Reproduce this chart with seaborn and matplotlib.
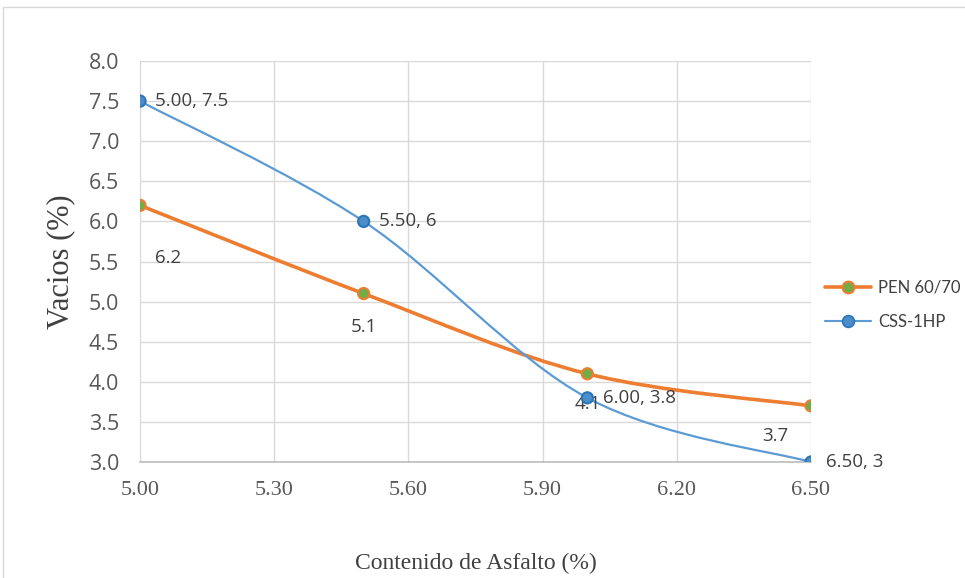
import numpy as np
import pandas as pd
import matplotlib
matplotlib.use("Agg")
import matplotlib.pyplot as plt
import seaborn as sns
from matplotlib.path import Path
from matplotlib.patches import PathPatch, Rectangle
from matplotlib.lines import Line2D

# Asphalt content (%) and air voids (%)
asfalto = [5.00, 5.50, 6.00, 6.50]
vacios_pen = [6.2, 5.1, 4.1, 3.7]
vacios_css = [7.5, 6.0, 3.8, 3.0]
series_names = ["PEN 60/70", "CSS-1HP"]
x_ticks = [5.00, 5.30, 5.60, 5.90, 6.20, 6.50]
y_ticks = [3.0, 3.5, 4.0, 4.5, 5.0, 5.5, 6.0, 6.5, 7.0, 7.5, 8.0]

df = pd.DataFrame({
    "asfalto": asfalto * 2,
    "vacios": vacios_pen + vacios_css,
    "serie": [series_names[0]] * 4 + [series_names[1]] * 4,
})

sns.set_theme(style="white")
plt.rcParams["font.family"] = ["Open Sans", "DejaVu Sans"]

ORANGE = "#ED7D31"
BLUE = "#5B9BD5"
TXT = "#404040"

fig = plt.figure(figsize=(9.65, 5.78), dpi=100)
fig.patch.set_facecolor("white")
# outer chart frame
fig.patches.append(Rectangle((3 / 965, -0.05), 1.2, 1 - 7 / 578 + 0.05,
                             transform=fig.transFigure, fill=False,
                             edgecolor="#d9d9d9", linewidth=1.0, zorder=0))

ax = fig.add_axes([140 / 965, 1 - 462 / 578, (811 - 140) / 965, (462 - 61) / 578])


def smooth_path(xs, ys):
    """Cubic Bezier through the points with Excel-style smoothing."""
    pts = np.column_stack([xs, ys]).astype(float)
    n = len(pts)
    verts = [pts[0]]
    codes = [Path.MOVETO]
    for i in range(n - 1):
        p0 = pts[max(i - 1, 0)]
        p1 = pts[i]
        p2 = pts[i + 1]
        p3 = pts[min(i + 2, n - 1)]
        c1 = p1 + (p2 - p0) / 6.0
        c2 = p2 - (p3 - p1) / 6.0
        verts += [c1, c2, p2]
        codes += [Path.CURVE4] * 3
    return Path(verts, codes)


ax.add_patch(PathPatch(smooth_path(asfalto, vacios_pen), fill=False,
                       edgecolor=ORANGE, linewidth=2.6, zorder=3,
                       capstyle="round"))
ax.add_patch(PathPatch(smooth_path(asfalto, vacios_css), fill=False,
                       edgecolor=BLUE, linewidth=1.6, zorder=3,
                       capstyle="round"))

sns.scatterplot(data=df, x="asfalto", y="vacios", hue="serie", ax=ax,
                palette={series_names[0]: "#70AD47", series_names[1]: "#4A8DC9"},
                s=65, legend=False, zorder=5, linewidth=1.5,
                edgecolor=[ORANGE] * 4 + ["#2E75B6"] * 4)

ax.set_xlim(5.00, 6.50)
ax.set_ylim(3.0, 8.0)
ax.set_xticks(x_ticks)
ax.set_yticks(y_ticks)
ax.set_xticklabels([f"{v:.2f}" for v in x_ticks], family="Liberation Serif",
                   fontsize=16)
ax.set_yticklabels([f"{v:.1f}" for v in y_ticks], fontsize=15.5)
ax.tick_params(axis="both", length=0, colors="#595959")
ax.tick_params(axis="x", pad=14)
ax.tick_params(axis="y", pad=15)
ax.grid(True, color="#d9d9d9", linewidth=1.0)
for side in ["top", "right", "left"]:
    ax.spines[side].set_visible(False)
ax.spines["bottom"].set_color("#bfbfbf")
ax.set_axisbelow(True)

ax.set_xlabel("Contenido de Asfalto (%)", family="Liberation Serif",
              fontsize=17, color=TXT, labelpad=38)
ax.set_ylabel("Vacios (%)", family="Liberation Serif", fontsize=22,
              color=TXT, labelpad=10)

# data labels: PEN 60/70 values below the points, CSS-1HP "x, y" to the right
pen_offsets = [(20, -38), (0, -24), (0, -22), (-26, -22)]
for (x, y), off in zip(zip(asfalto, vacios_pen), pen_offsets):
    ax.annotate(f"{y:g}", (x, y), xytext=off, textcoords="offset points",
                ha="center", va="center", fontsize=13.5, color=TXT)
for x, y in zip(asfalto, vacios_css):
    ax.annotate(f"{x:.2f}, {y:g}", (x, y), xytext=(11, 0),
                textcoords="offset points", ha="left", va="center",
                fontsize=13.5, color=TXT)

handles = [
    Line2D([], [], color=ORANGE, lw=2.6, marker="o", markersize=8.5,
           markerfacecolor="#70AD47", markeredgecolor=ORANGE, markeredgewidth=1.5),
    Line2D([], [], color=BLUE, lw=1.5, marker="o", markersize=8.5,
           markerfacecolor="#4A8DC9", markeredgecolor="#2E75B6", markeredgewidth=1.2),
]
leg = fig.legend(handles, series_names, loc="center left",
                 bbox_to_anchor=(823 / 965, 1 - 305 / 578), frameon=False,
                 prop={"family": "Lato", "size": 12}, handlelength=2.8,
                 labelspacing=1.1, handletextpad=0.4, borderaxespad=0.0,
                 borderpad=0.1)
for t in leg.get_texts():
    t.set_color(TXT)

fig.savefig("out.png", dpi=100, facecolor="white")
